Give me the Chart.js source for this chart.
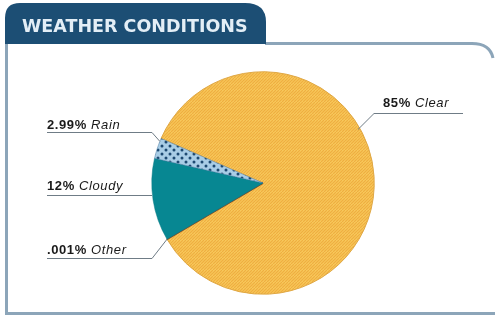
<!DOCTYPE html>
<html>
<head>
<meta charset="utf-8">
<script src="https://cdn.jsdelivr.net/npm/chart.js@4/dist/chart.umd.min.js"></script>
<style>
html,body{margin:0;padding:0;background:#fff;}
#wrap{position:relative;width:495px;height:317px;}
canvas{display:block;}
</style>
</head>
<body>
<div id="wrap"><canvas id="c" width="495" height="317"></canvas></div>
<script>
const title = 'WEATHER CONDITIONS';
const categories = ['Clear', 'Other', 'Cloudy', 'Rain'];
const percentLabels = ['85%', '.001%', '12%', '2.99%'];
const values = [85, 0.001, 12, 2.99];

function stripePattern() {
  const c = document.createElement('canvas');
  c.width = 6; c.height = 6;
  const g = c.getContext('2d');
  g.fillStyle = '#FAD063';
  g.fillRect(0, 0, 6, 6);
  g.strokeStyle = '#EFAE40';
  g.lineWidth = 1.3;
  for (let k = -6; k <= 12; k += 3) {
    g.beginPath(); g.moveTo(k, 6); g.lineTo(k + 6, 0); g.stroke();
  }
  return g.createPattern(c, 'repeat');
}
function dotPattern() {
  const c = document.createElement('canvas');
  c.width = 8; c.height = 8;
  const g = c.getContext('2d');
  g.fillStyle = '#A9CDE6';
  g.fillRect(0, 0, 8, 8);
  g.fillStyle = '#1E4A72';
  g.beginPath(); g.arc(2, 2, 1.5, 0, Math.PI * 2); g.fill();
  g.beginPath(); g.arc(6, 6, 1.5, 0, Math.PI * 2); g.fill();
  return g.createPattern(c, 'repeat');
}

// label layout: text baseline, underline and where the leader meets the slice
const labelLayout = {
  'Clear':  {x: 383, y: 107, ly: 113, lineX0: 374, lineX1: 463, side: 'right', rf: 0.98, af: 0.415},
  'Rain':   {x: 47,  y: 129, ly: 132, lineX0: 47,  lineX1: 152, side: 'left', rf: 1.0, af: 0.85},
  'Cloudy': {x: 47,  y: 190, ly: 195, lineX0: 47,  lineX1: 152, side: 'left', rf: null, af: 0.5},
  'Other':  {x: 47,  y: 254, ly: 258, lineX0: 47,  lineX1: 152, side: 'left', rf: 1.0, af: 0.5}
};

const framePlugin = {
  id: 'frame',
  beforeDraw(chart) {
    const ctx = chart.ctx;
    ctx.save();
    ctx.fillStyle = '#fff';
    ctx.fillRect(0, 0, 495, 317);
    ctx.strokeStyle = '#8CA5B9';
    ctx.lineWidth = 3;
    ctx.beginPath();
    ctx.moveTo(265, 43.5);
    ctx.lineTo(472, 43.5);
    ctx.quadraticCurveTo(490, 43.5, 493, 58);
    ctx.stroke();
    ctx.beginPath();
    ctx.moveTo(6.5, 40);
    ctx.lineTo(6.5, 313.5);
    ctx.lineTo(495, 313.5);
    ctx.stroke();
    ctx.fillStyle = '#1C4E74';
    ctx.beginPath();
    ctx.moveTo(5, 44);
    ctx.lineTo(5, 18);
    ctx.quadraticCurveTo(5, 3, 20, 3);
    ctx.lineTo(245, 3);
    ctx.quadraticCurveTo(266, 3, 266, 22);
    ctx.lineTo(266, 44);
    ctx.closePath();
    ctx.fill();
    ctx.fillStyle = '#E3EEF6';
    ctx.font = 'bold 17.5px "DejaVu Sans"';
    ctx.textBaseline = 'middle';
    ctx.fillText(title, 22, 27);
    ctx.restore();
  },
  afterDatasetsDraw(chart) {
    const ctx = chart.ctx;
    const meta = chart.getDatasetMeta(0);
    ctx.save();
    meta.data.forEach((arc, i) => {
      const name = categories[i];
      const L = labelLayout[name];
      const p = arc.getProps(['x', 'y', 'startAngle', 'endAngle', 'outerRadius']);
      const ang = p.startAngle + (p.endAngle - p.startAngle) * L.af;
      ctx.strokeStyle = '#6F7C86';
      ctx.lineWidth = 1;
      ctx.beginPath();
      const ly = L.ly + 0.5;
      if (L.side === 'right') {
        ctx.moveTo(L.lineX1, ly);
        ctx.lineTo(L.lineX0, ly);
      } else {
        ctx.moveTo(L.lineX0, ly);
        ctx.lineTo(L.lineX1, ly);
      }
      if (L.rf !== null) {
        ctx.lineTo(p.x + Math.cos(ang) * p.outerRadius * L.rf,
                   p.y + Math.sin(ang) * p.outerRadius * L.rf);
      }
      ctx.stroke();
      ctx.fillStyle = '#1a1a1a';
      ctx.textBaseline = 'alphabetic';
      ctx.letterSpacing = '0.6px';
      ctx.font = 'bold 13px "Liberation Sans"';
      const pct = percentLabels[i] + ' ';
      ctx.fillText(pct, L.x, L.y);
      const w = ctx.measureText(pct).width;
      ctx.font = 'italic 13px "Liberation Sans"';
      ctx.fillText(name, L.x + w, L.y);
    });
    ctx.restore();
  }
};

const rotationDeg = 293.6;

new Chart(document.getElementById('c'), {
  type: 'pie',
  data: {
    labels: categories,
    datasets: [{
      data: values,
      backgroundColor: [stripePattern(), '#8B4A22', '#078792', dotPattern()],
      borderColor: ['#E0A845', '#8B4A22', '#0A7C86', '#4E7EA6'],
      borderWidth: [1, 1.5, 0.5, 0.5]
    }]
  },
  options: {
    responsive: false,
    animation: false,
    rotation: rotationDeg,
    layout: {padding: {left: 151, right: 120, top: 71, bottom: 22}},
    plugins: {legend: {display: false}, tooltip: {enabled: false}}
  },
  plugins: [framePlugin]
});
</script>
</body>
</html>
